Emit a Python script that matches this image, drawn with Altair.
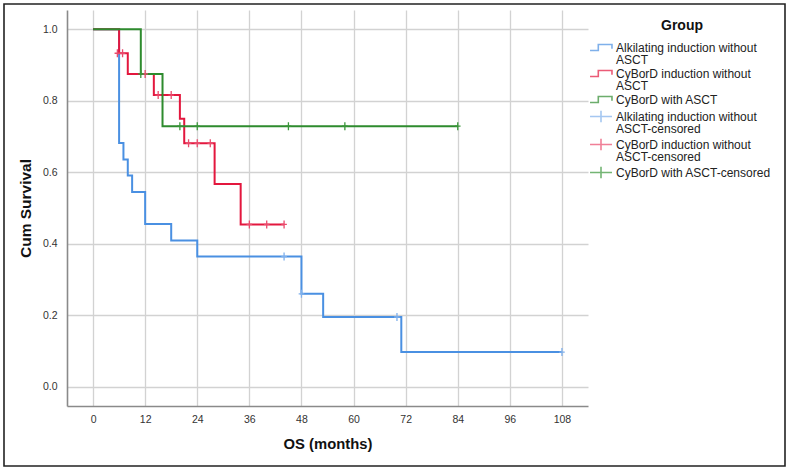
import altair as alt
import pandas as pd

# ---- data ----
series_names = [
    "Alkilating induction without ASCT",
    "CyBorD induction without ASCT",
    "CyBorD with ASCT",
    "Alkilating induction without ASCT-censored",
    "CyBorD induction without ASCT-censored",
    "CyBorD with ASCT-censored",
]
series_colors = ["#4a90e2", "#e3173e", "#2e8b2e", "#7fb0ec", "#ea4a6c", "#3a963a"]

blue_t = [0, 6, 7, 8, 9, 12, 18, 24, 48, 53, 71, 108]
blue_s = [1.0, 0.682, 0.636, 0.591, 0.545, 0.455, 0.409, 0.364, 0.260, 0.195, 0.097, 0.097]
red_t = [0, 6, 8, 14, 20, 21, 28, 34, 44]
red_s = [1.0, 0.933, 0.875, 0.816, 0.750, 0.681, 0.567, 0.454, 0.454]
green_t = [0, 11, 16, 84]
green_s = [1.0, 0.875, 0.729, 0.729]

blue_cens_t = [44, 48, 70, 108]
blue_cens_s = [0.364, 0.260, 0.195, 0.097]
red_cens_t = [5.6, 6.8, 12, 15, 18, 22, 24, 27, 36, 40, 44]
red_cens_s = [0.933, 0.933, 0.875, 0.816, 0.816, 0.681, 0.681, 0.681, 0.454, 0.454, 0.454]
green_cens_t = [11, 20, 24, 45, 58, 84]
green_cens_s = [0.875, 0.729, 0.729, 0.729, 0.729, 0.729]

x_ticks = [0, 12, 24, 36, 48, 60, 72, 84, 96, 108]
y_ticks = [0.0, 0.2, 0.4, 0.6, 0.8, 1.0]

# legend symbols (scale r=6 -> 22px wide)
legend_step = "M-1.83,0.5H-0.45V-0.5H1.83V0.2"
legend_plus = "M-1.83,0H1.83M0,-0.95V0.95"
legend_shapes = [legend_step, legend_step, legend_step, legend_plus, legend_plus, legend_plus]
# censor tick drawn on the curves
plot_plus = "M-0.7,0H0.7M0,-1V1"

# ---- tables ----
def line_df(t, s, name):
    return pd.DataFrame({"t": t, "s": s, "series": name})

blue_df = line_df(blue_t, blue_s, series_names[0])
red_df = line_df(red_t, red_s, series_names[1])
green_df = line_df(green_t, green_s, series_names[2])
cens_df = pd.concat([
    line_df(blue_cens_t, blue_cens_s, series_names[3]),
    line_df(red_cens_t, red_cens_s, series_names[4]),
    line_df(green_cens_t, green_cens_s, series_names[5]),
])

FONT = "Liberation Sans"

x_enc = alt.X("t:Q",
              scale=alt.Scale(domain=[-6, 114], nice=False, zero=False),
              axis=alt.Axis(values=x_ticks, title="OS (months)", ticks=False,
                            labelPadding=8, titlePadding=12, grid=True,
                            titleFontSize=14.8))
y_enc = alt.Y("s:Q",
              scale=alt.Scale(domain=[-0.054, 1.054], nice=False, zero=False),
              axis=alt.Axis(values=y_ticks, format=".1f", title="Cum Survival",
                            ticks=False, labelPadding=10, titlePadding=9, grid=True,
                            titleFontSize=15.5))

# stroke scale for the drawn curves (reverse order so it is not merged with the legend scale)
stroke_scale = alt.Scale(domain=series_names[::-1], range=series_colors[::-1])

def line_layer(df):
    return alt.Chart(df).mark_line(interpolate="step-after", strokeWidth=2).encode(
        x=x_enc, y=y_enc,
        stroke=alt.Stroke("series:N", scale=stroke_scale, legend=None),
    )

cens_layer = alt.Chart(cens_df).mark_point(
    filled=False, size=64, strokeWidth=1.3, opacity=1, shape=plot_plus
).encode(
    x=x_enc, y=y_enc,
    stroke=alt.Stroke("series:N", scale=stroke_scale, legend=None),
)

legend = alt.Legend(
    title="Group", orient="none", legendX=527, legendY=9,
    symbolSize=144, symbolStrokeWidth=1.6, symbolFillColor="transparent",
    labelExpr="split(replace(datum.label, ' without ', ' without|'), '|')",
    labelFont=FONT, labelFontSize=12, labelColor="#222222",
    labelOffset=8, rowPadding=1, labelLimit=300,
    titleFont=FONT, titleFontSize=14, titleFontWeight="bold", titleColor="#111111",
    titleAnchor="middle", titlePadding=7.5,
)

# zero-size layer that only carries the legend
legend_layer = alt.Chart(cens_df).mark_point(filled=False, size=0).encode(
    x=x_enc, y=y_enc,
    color=alt.Color("series:N", scale=alt.Scale(domain=series_names, range=series_colors), legend=legend),
    shape=alt.Shape("series:N", scale=alt.Scale(domain=series_names, range=legend_shapes), legend=legend),
)

border = alt.Chart(alt.Data(values=[{"k": 1}])).mark_rect(
    filled=False, stroke="#222222", strokeWidth=1.6, clip=False
).encode(
    x=alt.value(-63), x2=alt.value(718), y=alt.value(-6), y2=alt.value(456)
)

chart = alt.layer(
    border, line_layer(blue_df), line_layer(red_df), line_layer(green_df), cens_layer, legend_layer
).properties(
    width=521, height=396,
    autosize=alt.AutoSizeParams(type="none"),
    padding={"left": 67, "top": 10, "right": 202, "bottom": 63},
    background="white",
).configure(
    style={"guide-label": {"lineHeight": 12}}
).configure_view(
    stroke=None
).configure_axis(
    labelFont=FONT, labelFontSize=10.5, labelColor="#333333",
    titleFont=FONT, titleFontWeight="bold", titleColor="#111111",
    gridColor="#d2d2d2", gridWidth=1.3,
    domainColor="#8a8a8a", domainWidth=1.6,
)

chart.save("out.html", embed_options={"renderer": "svg", "actions": False})
